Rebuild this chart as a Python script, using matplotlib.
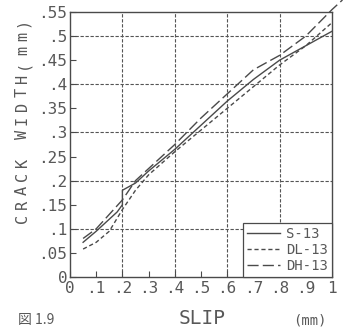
import matplotlib
matplotlib.use("Agg")
import matplotlib.pyplot as plt
from matplotlib.ticker import FuncFormatter, MultipleLocator

# S-13 (solid)
s_x = [0.05, 0.10, 0.15, 0.18, 0.20, 0.20, 0.25, 0.30, 0.40, 0.50, 0.60, 0.70, 0.80, 0.90, 1.00]
s_y = [0.072, 0.095, 0.12, 0.135, 0.15, 0.18, 0.195, 0.22, 0.265, 0.315, 0.365, 0.41, 0.45, 0.48, 0.51]
# DL-13 (short dash)
dl_x = [0.05, 0.10, 0.15, 0.20, 0.25, 0.30, 0.40, 0.50, 0.60, 0.70, 0.80, 0.90, 1.00]
dl_y = [0.058, 0.072, 0.095, 0.14, 0.18, 0.212, 0.26, 0.305, 0.35, 0.395, 0.44, 0.48, 0.528]
# DH-13 (long dash)
dh_x = [0.05, 0.10, 0.15, 0.20, 0.25, 0.30, 0.40, 0.50, 0.60, 0.70, 0.80, 0.90, 1.00, 1.04]
dh_y = [0.08, 0.10, 0.13, 0.16, 0.20, 0.225, 0.275, 0.33, 0.38, 0.43, 0.46, 0.50, 0.555, 0.575]

YLABEL = "CRACK WIDTH(mm)"

INK = "#4a4a4a"
TXT = "#585858"
MONO = "DejaVu Sans Mono"
W, H = 347, 329

fig = plt.figure(figsize=(W / 100, H / 100), dpi=100)
ax = fig.add_axes([70 / W, 1 - 277 / H, 262 / W, 265 / H])

ax.plot(s_x, s_y, color=INK, lw=1.0, label="S-13")
ax.plot(dl_x, dl_y, color=INK, lw=1.0, ls=(0, (3, 2)), label="DL-13")
ax.plot(dh_x, dh_y, color=INK, lw=1.0, ls=(0, (8, 3)), label="DH-13", clip_on=False)

ax.set_xlim(0, 1)
ax.set_ylim(0, 0.55)
ax.xaxis.set_major_locator(MultipleLocator(0.1))
ax.yaxis.set_major_locator(MultipleLocator(0.05))

def fmt(v, _):
    v = round(v, 2)
    if v == 0:
        return "0"
    if v == 1:
        return "1"
    return f"{v:.2f}".rstrip("0").lstrip("0")

ax.xaxis.set_major_formatter(FuncFormatter(fmt))
ax.yaxis.set_major_formatter(FuncFormatter(fmt))
ax.tick_params(direction="in", length=4, width=0.8, color=INK, labelcolor=TXT,
               labelsize=11.5, pad=2)
ax.tick_params(axis="x", pad=3)
for lab in ax.get_xticklabels() + ax.get_yticklabels():
    lab.set_family(MONO)

# grid only at the even values
for gx in [0.2, 0.4, 0.6, 0.8]:
    ax.axvline(gx, color="#555555", lw=0.8, ls=(0, (3, 1.5)), zorder=0)
for gy in [0.1, 0.2, 0.3, 0.4, 0.5]:
    ax.axhline(gy, color="#555555", lw=0.8, ls=(0, (3, 1.5)), zorder=0)

for s in ax.spines.values():
    s.set_color(INK)
    s.set_linewidth(1.0)

leg = ax.legend(loc="lower right", borderaxespad=0, fancybox=False, framealpha=1,
                edgecolor=INK, handlelength=2.4, handletextpad=0.4, labelspacing=0.15,
                borderpad=0.3, prop={"family": MONO, "size": 10})
leg.get_frame().set_linewidth(0.9)
for t in leg.get_texts():
    t.set_color(TXT)

# widely spaced vertical axis title, one glyph at a time, on a common baseline
for i, ch in enumerate(YLABEL):
    y = 218 - 14 * i
    fig.text(27 / W, 1 - y / H, ch, rotation=90, rotation_mode="anchor",
             ha="center", va="baseline", family=MONO, fontsize=11, color=TXT)

fig.text(202 / W, 1 - 318 / H, "SLIP", ha="center", va="center", family=MONO,
         fontsize=14, color=TXT)
fig.text(310 / W, 1 - 320 / H, "(mm)", ha="center", va="center", family=MONO,
         fontsize=10, color=TXT)
fig.text(18 / W, 2 / H, "図 1.9", ha="left", va="bottom", fontsize=10, color=TXT,
         family=["Noto Sans CJK JP", "DejaVu Sans"])

fig.savefig("out.png", dpi=100, facecolor="white")
